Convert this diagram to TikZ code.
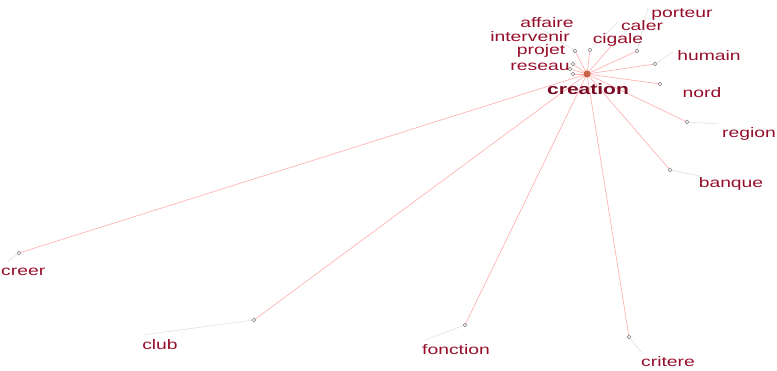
\documentclass[tikz,border=0pt]{standalone}
\usepackage{fontspec}
\newfontfamily\lblfont[FakeStretch=1.4]{Liberation Sans}
\definecolor{lbl}{RGB}{150,14,42}
\definecolor{edgepink}{RGB}{255,175,175}
\definecolor{leader}{RGB}{225,225,225}
\definecolor{hub}{RGB}{200,100,70}
\begin{document}
\begin{tikzpicture}[x=1pt,y=-1pt,
  lab/.style={font=\lblfont\fontsize{13.8}{14}\selectfont, text=lbl, inner sep=0pt},
  hublab/.style={font=\lblfont\bfseries\fontsize{15}{15}\selectfont, text=lbl!80!black, inner sep=0pt},
  dot/.style={circle, draw=gray!85, fill=white, line width=0.75pt, inner sep=0pt, minimum size=3.8pt},
  hubdot/.style={circle, fill=hub, inner sep=0pt, minimum size=7pt},
  link/.style={draw=edgepink, line width=0.65pt},
  lead/.style={draw=leader, line width=0.6pt}]
\useasboundingbox (0,0) rectangle (777,371);
\begin{scope}
\clip (0,0) rectangle (777,371);

% hub and its neighbours
\coordinate (c) at (587,74);
\coordinate (pAffaire) at (575,51);
\coordinate (pCaler) at (590,50);
\coordinate (pProjet) at (573,64);
\coordinate (pReseau) at (573,74);
\coordinate (pInterv) at (570,69);
\coordinate (pCigale) at (612,45);
\coordinate (pPorteur) at (637,51);
\coordinate (pHumain) at (655,64);
\coordinate (pNord) at (660,84);
\coordinate (pRegion) at (687,122);
\coordinate (pBanque) at (670,170);
\coordinate (pCreer) at (19,253);
\coordinate (pClub) at (254,320);
\coordinate (pFonction) at (465,325);
\coordinate (pCritere) at (629,337);

% label leaders
\coordinate (eAffaire) at (523,17);
\coordinate (eCaler) at (618,22);
\coordinate (ePorteur) at (648,8);
\coordinate (eHumain) at (673,52);
\coordinate (eRegion) at (718,124);
\coordinate (eBanque) at (700,176);
\coordinate (eClub) at (143,335);
\coordinate (eFonction) at (425,340);
\coordinate (eCritere) at (641,352);
\coordinate (eCreer) at (8,261);
\foreach \a in {Affaire,Caler,Porteur,Humain,Region,Banque,Club,Fonction,Critere,Creer}
  \draw[lead] (p\a) -- (e\a);

% edges from the hub
\foreach \p in {Affaire,Caler,Projet,Reseau,Interv,Cigale,Porteur,Humain,Nord,Region,Banque,Creer,Club,Fonction,Critere}
  \draw[link] (c) -- (p\p);

% node markers
\foreach \p in {Affaire,Caler,Projet,Reseau,Interv,Porteur,Humain,Nord,Region,Banque,Creer,Club,Fonction,Critere}
  \node[dot] (d\p) at (p\p) {};
\node[hubdot] (hubnode) at (c) {};

% labels
\node[hublab] (lCreation) at (588,89) {creation};
\node[lab] (lPorteur) at (682,14) {porteur};
\node[lab] (lCaler) at (642,26) {caler};
\node[lab] (lAffaire) at (547,23) {affaire};
\node[lab] (lInterv) at (530,37) {intervenir};
\node[lab] (lCigale) at (618,40) {cigale};
\node[lab] (lProjet) at (541,51) {projet};
\node[lab] (lReseau) at (540,67) {reseau};
\node[lab] (lHumain) at (709,56) {humain};
\node[lab] (lNord) at (702,93) {nord};
\node[lab] (lRegion) at (749,134) {region};
\node[lab] (lBanque) at (731,184) {banque};
\node[lab,anchor=west] (lCreer) at (1,272) {creer};
\node[lab] (lClub) at (160,345) {club};
\node[lab] (lFonction) at (456,350) {fonction};
\node[lab] (lCritere) at (668,362) {critere};
\end{scope}
\end{tikzpicture}
\end{document}
